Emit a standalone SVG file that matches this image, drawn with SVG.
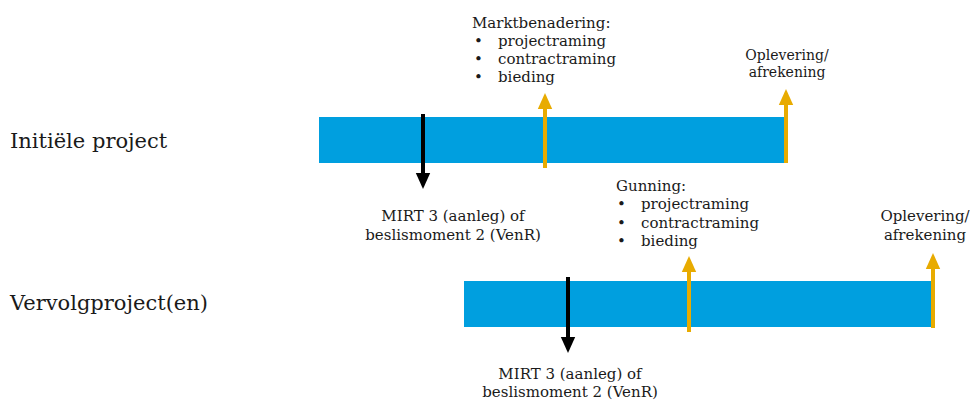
<svg xmlns="http://www.w3.org/2000/svg" width="970" height="402" viewBox="0 0 970 402">
<style>
text{font-family:"DejaVu Serif","Liberation Serif",serif;fill:#1a1a1a;font-size:15px}
.big{font-size:21px}
.sm{font-size:14px}
.mid{text-anchor:middle}
.bar{fill:#009fdf}
.blk{stroke:#000;stroke-width:4;fill:none}
.org{stroke:#e8ab00;stroke-width:4;fill:none}
</style>
<defs>
<marker id="hb" markerWidth="4" markerHeight="4" refX="2" refY="2" orient="auto" markerUnits="strokeWidth"><path d="M0,0.2 L4,2 L0,3.8 Z" fill="#000"/></marker>
<marker id="ho" markerWidth="4" markerHeight="4" refX="2" refY="2" orient="auto" markerUnits="strokeWidth"><path d="M0,0.2 L4,2 L0,3.8 Z" fill="#e8ab00"/></marker>
</defs>
<g id="label-initieel"><text class="big" x="10" y="148">Initiële project</text></g>
<g id="label-vervolg"><text class="big" x="10" y="310">Vervolgproject(en)</text></g>
<g id="bar-initieel"><rect class="bar" x="319" y="117" width="466" height="46"/></g>
<g id="bar-vervolg"><rect class="bar" x="464" y="281" width="468" height="46"/></g>
<g id="connectors">
<path class="blk" d="M423,114 V181" marker-end="url(#hb)"/>
<path class="org" d="M545,168 V101" marker-end="url(#ho)"/>
<path class="org" d="M786,163 V97" marker-end="url(#ho)"/>
<path class="blk" d="M568,277 V345" marker-end="url(#hb)"/>
<path class="org" d="M689,332 V264" marker-end="url(#ho)"/>
<path class="org" d="M933,328 V261" marker-end="url(#ho)"/>
</g>
<g id="text-markt">
<text x="472" y="28">Marktbenadering:</text>
<text x="474" y="46">•</text><text x="498" y="46">projectraming</text>
<text x="474" y="64">•</text><text x="498" y="64">contractraming</text>
<text x="474" y="82">•</text><text x="498" y="82">bieding</text>
</g>
<g id="text-oplevering1">
<text class="mid sm" x="787" y="60">Oplevering/</text>
<text class="mid sm" x="787" y="77">afrekening</text>
</g>
<g id="text-mirt1">
<text class="mid" x="453" y="221">MIRT 3 (aanleg) of</text>
<text class="mid" x="453" y="240">beslismoment 2 (VenR)</text>
</g>
<g id="text-gunning">
<text x="616" y="191">Gunning:</text>
<text x="617" y="209">•</text><text x="641" y="209">projectraming</text>
<text x="617" y="228">•</text><text x="641" y="228">contractraming</text>
<text x="617" y="246">•</text><text x="641" y="246">bieding</text>
</g>
<g id="text-oplevering2">
<text class="mid" x="925" y="221">Oplevering/</text>
<text class="mid" x="925" y="240">afrekening</text>
</g>
<g id="text-mirt2">
<text class="mid" x="570" y="379">MIRT 3 (aanleg) of</text>
<text class="mid" x="570" y="397">beslismoment 2 (VenR)</text>
</g>
</svg>
